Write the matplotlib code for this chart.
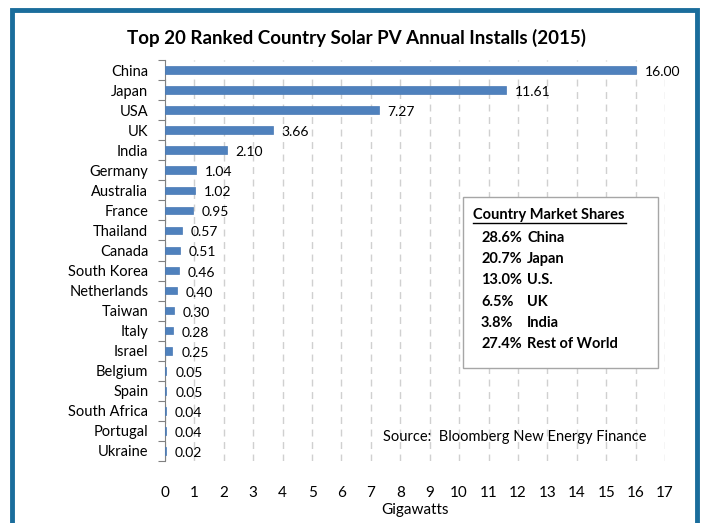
import matplotlib.pyplot as plt
from matplotlib.patches import Rectangle
import numpy as np

countries = ['China', 'Japan', 'USA', 'UK', 'India', 'Germany', 'Australia', 'France',
             'Thailand', 'Canada', 'South Korea', 'Netherlands', 'Taiwan', 'Italy', 'Israel',
             'Belgium', 'Spain', 'South Africa', 'Portugal', 'Ukraine']
installs = [16.00, 11.61, 7.27, 3.66, 2.10, 1.04, 1.02, 0.95, 0.57, 0.51,
            0.46, 0.40, 0.30, 0.28, 0.25, 0.05, 0.05, 0.04, 0.04, 0.02]
share_pct = ['28.6%', '20.7%', '13.0%', '6.5%', '3.8%', '27.4%']
share_names = ['China', 'Japan', 'U.S.', 'UK', 'India', 'Rest of World']

plt.rcParams['font.family'] = ['Lato', 'DejaVu Sans']

fig = plt.figure(figsize=(7.04, 5.23), dpi=100)
W, H = 704, 523

# blue frame round the chart
fig.patches.append(Rectangle((12 / W, -0.05), 685 / W, 1.05 - 10 / H, transform=fig.transFigure,
                             fill=False, edgecolor='#1a6d9c', linewidth=3.5))

ax = fig.add_axes([165 / W, 1 - 461 / H, 500 / W, 401 / H])
y = np.arange(len(countries))
ax.barh(y, installs, height=0.38, color='#4f81bd', edgecolor='#4a7ab5', linewidth=0.5, zorder=3)
for yi, v in zip(y, installs):
    ax.text(v + 0.3, yi + 0.1, f'{v:.2f}', va='center', ha='left', fontsize=10, color='black')

ax.set_xlim(0, 17)
ax.set_ylim(len(countries) - 0.5, -0.5)
ax.set_xticks(range(0, 18))
ax.set_yticks(y)
ax.set_yticklabels(countries, fontsize=10.5)
ax.set_yticks(np.arange(-0.5, len(countries)), minor=True)
ax.tick_params(axis='y', which='major', length=0, pad=12)
ax.tick_params(axis='y', which='minor', length=5, color='#808080', width=0.8)
ax.tick_params(axis='x', length=0, pad=18, labelsize=11)
ax.xaxis.grid(True, color='#d0d0d0', linestyle=(0, (5, 4)), linewidth=1, zorder=0)
for s in ['top', 'right', 'bottom']:
    ax.spines[s].set_visible(False)
ax.spines['left'].set_color('#808080')
ax.set_xlabel('Gigawatts', fontsize=11, labelpad=2)

fig.text(356 / W, 1 - 38 / H, 'Top 20 Ranked Country Solar PV Annual Installs (2015)',
         ha='center', va='center', fontsize=13.5, fontweight='bold')

# market share box
fig.patches.append(Rectangle((463 / W, 1 - 368 / H), 195 / W, 171 / H, transform=fig.transFigure,
                             facecolor='white', edgecolor='#a6a6a6', linewidth=1, zorder=5))
t = fig.text(473 / W, 1 - 215 / H, 'Country Market Shares', ha='left', va='center',
             fontsize=10.5, fontweight='bold', zorder=6)
fig.add_artist(plt.Line2D([473 / W, 626 / W], [1 - 223 / H, 1 - 223 / H], color='black',
                          linewidth=1, zorder=6))
for i, (p, n) in enumerate(zip(share_pct, share_names)):
    yy = 1 - (238 + i * 21.2) / H
    fig.text(481 / W, yy, p, ha='left', va='center', fontsize=10.5, fontweight='bold', zorder=6)
    fig.text(527 / W, yy, n, ha='left', va='center', fontsize=10.5, fontweight='bold', zorder=6)

fig.text(383 / W, 1 - 437 / H, 'Source:  Bloomberg New Energy Finance', ha='left', va='center',
         fontsize=10.5)

fig.savefig('out.png', dpi=100)
